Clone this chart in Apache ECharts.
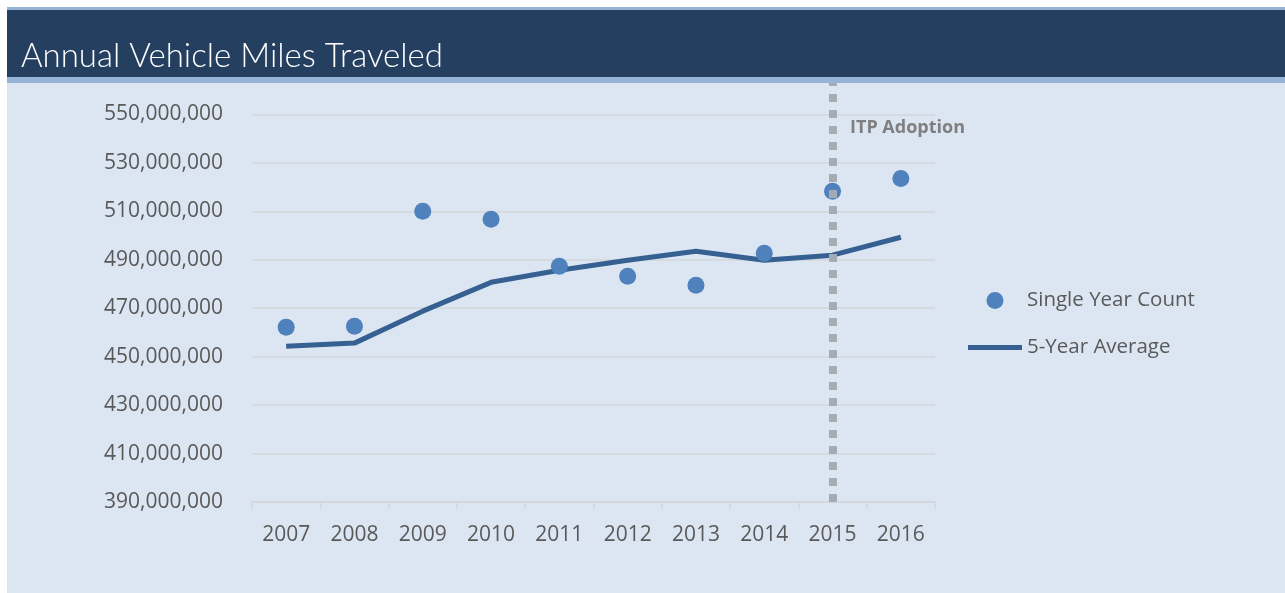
<!DOCTYPE html>
<html>
<head>
<meta charset="utf-8">
<script src="https://cdn.jsdelivr.net/npm/echarts@6/dist/echarts.min.js"></script>
<style>
html,body{margin:0;padding:0;background:#ffffff;}
#chart{width:1285px;height:593px;}
</style>
</head>
<body>
<div id="chart"></div>
<script>
var years = ['2007','2008','2009','2010','2011','2012','2013','2014','2015','2016'];
var singleYearCount = [462200000, 462600000, 510000000, 506700000, 487300000, 483200000, 479500000, 492700000, 518300000, 523600000];
var fiveYearAverage = [454300000, 455600000, 468800000, 480700000, 485700000, 489800000, 493500000, 489800000, 491900000, 499300000];
var adoptionYear = '2015';
var titleText = 'Annual Vehicle Miles Traveled';
var annotationText = 'ITP Adoption';

var chart = echarts.init(document.getElementById('chart'), null, {renderer: 'canvas'});
var labelColor = '#595959';
var bodyFont = '"Open Sans", "Noto Sans", sans-serif';

chart.setOption({
  backgroundColor: '#ffffff',
  animation: false,
  graphic: [
    {type: 'rect', z: -10, shape: {x: 7, y: 7, width: 1278, height: 586}, style: {fill: '#dce6f2'}},
    {type: 'rect', z: -9, shape: {x: 7, y: 7, width: 1278, height: 76}, style: {fill: '#95b3d7'}},
    {type: 'rect', z: -8, shape: {x: 7, y: 10, width: 1278, height: 67}, style: {fill: '#243f60'}},
    {type: 'text', z: 10, left: 21, top: 40, style: {text: titleText, fill: '#ffffff', font: '300 33px Lato, "Open Sans", sans-serif'}},
    {type: 'text', z: 10, left: 850, top: 119, style: {text: annotationText, fill: '#7f7f7f', font: 'bold 18px "Open Sans", "Noto Sans", sans-serif'}}
  ],
  grid: {left: 252, right: 350, top: 83, bottom: 91, containLabel: false},
  legend: {
    orient: 'vertical',
    left: 963,
    top: 285,
    itemWidth: 54,
    itemHeight: 17,
    itemGap: 26,
    textStyle: {color: labelColor, fontSize: 20.5, fontFamily: bodyFont},
    data: [
      {name: 'Single Year Count'},
      {name: '5-Year Average', icon: 'path://M0,0H54V5H0Z'}
    ]
  },
  xAxis: {
    type: 'category',
    data: years,
    boundaryGap: true,
    axisLine: {show: true, lineStyle: {color: '#d3d6da', width: 1.5}},
    axisTick: {show: true, length: 7, lineStyle: {color: '#d3d6da', width: 1.5}},
    axisLabel: {color: labelColor, fontSize: 21, fontFamily: bodyFont, margin: 23},
    splitLine: {show: false}
  },
  yAxis: {
    type: 'value',
    min: 390000000,
    max: 563000000,
    interval: 20000000,
    axisLine: {show: false},
    axisTick: {show: false},
    axisLabel: {
      color: labelColor, fontSize: 21, fontFamily: bodyFont, margin: 29,
      showMaxLabel: false,
      formatter: function (v) { return v.toLocaleString('en-US'); }
    },
    splitLine: {show: true, showMaxLine: false, lineStyle: {color: '#d3d6da', width: 1.5}}
  },
  series: [
    {
      name: '5-Year Average',
      type: 'line',
      data: fiveYearAverage,
      symbol: 'none',
      z: 2,
      lineStyle: {color: '#376092', width: 5},
      itemStyle: {color: '#376092'}
    },
    {
      name: 'Single Year Count',
      type: 'scatter',
      data: singleYearCount,
      symbol: 'circle',
      symbolSize: 17,
      z: 3,
      itemStyle: {color: '#4f81bd', opacity: 1},
      markLine: {
        silent: true,
        symbol: 'none',
        label: {show: false},
        lineStyle: {color: '#a5abb3', width: 8, type: [8, 8], opacity: 1},
        data: [{xAxis: adoptionYear}]
      }
    }
  ]
});
</script>
</body>
</html>
